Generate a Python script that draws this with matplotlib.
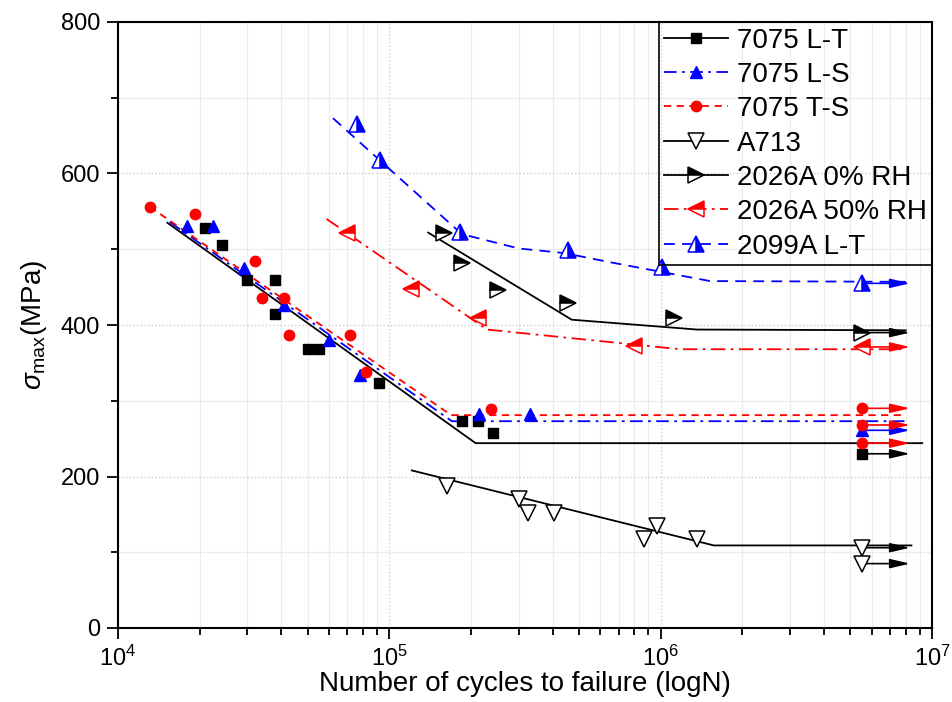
import matplotlib
matplotlib.use("Agg")
import matplotlib.pyplot as plt
from matplotlib.ticker import LogLocator, MultipleLocator, NullFormatter

plt.rcParams["font.family"] = ["Liberation Sans", "DejaVu Sans"]
plt.rcParams["mathtext.fontset"] = "custom"
plt.rcParams["mathtext.rm"] = "Liberation Sans"
plt.rcParams["mathtext.it"] = "Liberation Sans:italic"

# 7075 L-T
lt_n = [2.09e4, 2.42e4, 2.98e4, 3.78e4, 3.78e4, 5.03e4, 5.52e4, 9.19e4, 1.85e5, 2.12e5, 2.41e5]
lt_s = [528, 506, 459, 459, 414, 368, 368, 323, 273, 273, 258]
lt_fit_n = [1.52e4, 2.08e5, 9.2e6]
lt_fit_s = [535, 244, 244]
lt_run_s = [230]

# 7075 L-S
ls_n = [1.79e4, 2.24e4, 2.91e4, 4.09e4, 6.01e4, 7.80e4, 2.14e5, 3.30e5]
ls_s = [531, 531, 475, 426, 380, 334, 283, 283]
ls_fit_n = [1.55e4, 1.70e5, 8.0e6]
ls_fit_s = [536, 273, 273]
ls_run_s = [261]

# 7075 T-S
ts_n = [1.31e4, 1.92e4, 3.20e4, 3.39e4, 4.09e4, 4.26e4, 7.16e4, 8.20e4, 2.36e5]
ts_s = [556, 546, 484, 436, 436, 387, 387, 338, 289]
ts_fit_n = [1.31e4, 1.69e5, 8.0e6]
ts_fit_s = [556, 281, 281]
ts_run_s = [290, 268, 244]

# A713
a7_n = [1.63e5, 3.01e5, 3.25e5, 4.04e5, 8.65e5, 9.68e5, 1.36e6]
a7_s = [188, 170, 152, 152, 117, 134, 117]
a7_fit_n = [1.21e5, 1.57e6, 8.4e6]
a7_fit_s = [208, 109, 109]
a7_run_s = [106, 85]

# 2026A 0% RH
r0_n = [1.59e5, 1.85e5, 2.52e5, 4.57e5, 1.12e6]
r0_s = [522, 482, 446, 429, 409]
r0_fit_n = [1.39e5, 4.70e5, 1.36e6, 8.0e6]
r0_fit_s = [522, 407, 394, 393]
r0_run_s = [390]

# 2026A 50% RH
r50_n = [6.97e4, 1.20e5, 2.13e5, 7.98e5]
r50_s = [521, 447, 409, 372]
r50_fit_n = [5.87e4, 2.29e5, 1.18e6, 8.0e6]
r50_fit_s = [540, 394, 368, 368]
r50_run_s = [371]

# 2099A L-T
b99_n = [7.59e4, 9.25e4, 1.82e5, 4.57e5, 1.01e6]
b99_s = [666, 618, 523, 499, 477]
b99_fit_n = [6.2e4, 1.85e5, 3.0e5, 4.4e5, 6.7e5, 1.52e6, 8.0e6]
b99_fit_s = [673, 520, 501, 495, 482, 458, 457]
b99_run_s = [455]

run_n = 5.5e6
run_end = 8.3e6

fig = plt.figure(figsize=(9.53, 7.02), dpi=100)
ax = fig.add_axes([118/953, 1 - 628/702, (932 - 118)/953, (628 - 22)/702])

lw = 1.3
series = [
    # n, s, fit_n, fit_s, runouts, label, color, ls, marker style
    (lt_n, lt_s, lt_fit_n, lt_fit_s, lt_run_s, "7075 L-T", "black", "-",
     dict(marker="s", ms=7, mfc="black", mec="black")),
    (ls_n, ls_s, ls_fit_n, ls_fit_s, ls_run_s, "7075 L-S", "blue", (0, (7, 3, 1.5, 3)),
     dict(marker="^", ms=9, mfc="blue", mec="blue")),
    (ts_n, ts_s, ts_fit_n, ts_fit_s, ts_run_s, "7075 T-S", "red", (0, (4, 3)),
     dict(marker="o", ms=7.5, mfc="red", mec="red")),
    (a7_n, a7_s, a7_fit_n, a7_fit_s, a7_run_s, "A713", "black", "-",
     dict(marker="v", ms=12, mfc="white", mec="black", mew=1.1)),
    (r0_n, r0_s, r0_fit_n, r0_fit_s, r0_run_s, "2026A 0% RH", "black", "-",
     dict(marker=">", ms=12, mfc="black", mec="black", mfcalt="white", fillstyle="top", mew=1.1)),
    (r50_n, r50_s, r50_fit_n, r50_fit_s, r50_run_s, "2026A 50% RH", "red", (0, (8, 3, 1.5, 3)),
     dict(marker="<", ms=12, mfc="red", mec="red", mfcalt="white", fillstyle="top", mew=1.1)),
    (b99_n, b99_s, b99_fit_n, b99_fit_s, b99_run_s, "2099A L-T", "blue", (0, (6, 4)),
     dict(marker="^", ms=12, mfc="blue", mec="blue", mfcalt="white", fillstyle="right", mew=1.1)),
]

handles = []
for n, s, fn, fs, runs, label, color, ls, mk in series:
    ax.plot(fn, fs, color=color, linestyle=ls, lw=lw, zorder=2)
    ax.plot(n, s, linestyle="none", zorder=3, **mk)
    ax.plot([run_n] * len(runs), runs, linestyle="none", zorder=3, **mk)
    for r in runs:
        ax.annotate("", xy=(run_end, r), xytext=(run_n, r),
                    arrowprops=dict(arrowstyle="-|>,head_length=1.2,head_width=0.28",
                                    color=color, lw=1.2, shrinkA=0, shrinkB=0), zorder=2)
    h, = ax.plot([], [], color=color, linestyle=ls, lw=lw, **mk)
    handles.append(h)

ax.set_xscale("log")
ax.set_xlim(1e4, 1e7)
ax.set_ylim(0, 800)
ax.yaxis.set_major_locator(MultipleLocator(200))
ax.yaxis.set_minor_locator(MultipleLocator(100))
ax.xaxis.set_minor_locator(LogLocator(base=10, subs=range(2, 10)))
ax.xaxis.set_minor_formatter(NullFormatter())

ax.grid(True, which="major", color="#cfcfcf", linestyle=":", lw=1)
ax.grid(True, which="minor", color="#ececec", linestyle="-", lw=0.8)
ax.set_axisbelow(True)

for sp in ax.spines.values():
    sp.set_linewidth(1.5)
ax.tick_params(which="both", direction="out", top=False, right=False, width=1.3)
ax.tick_params(which="major", length=8, labelsize=17, pad=5)
ax.tick_params(which="minor", length=5)

ax.set_xlabel("Number of cycles to failure (logN)", fontsize=20, labelpad=0)
ax.set_ylabel(r"$\sigma_{\mathrm{max}}$(MPa)", fontsize=20, labelpad=8)

# transparent legend box, as in the original (data shows through)
leg = ax.legend(handles, [x[5] for x in series], loc="upper right", bbox_to_anchor=(1.0, 1.0),
                borderaxespad=0, fontsize=20, numpoints=1, handlelength=2.3,
                handletextpad=0.3, labelspacing=0.3, borderpad=0.2, fancybox=False)
leg.get_frame().set_facecolor("none")
leg.get_frame().set_edgecolor("black")
leg.get_frame().set_linewidth(1.2)
leg.get_frame().set_alpha(None)

plt.savefig("out.png", dpi=100)
